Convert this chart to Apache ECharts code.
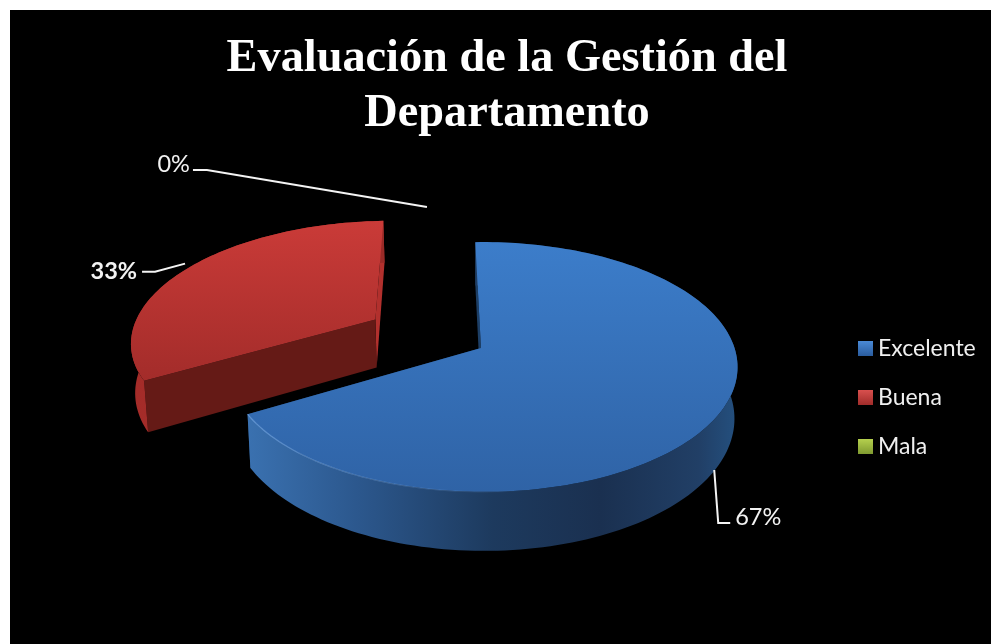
<!DOCTYPE html>
<html lang="es">
<head>
<meta charset="utf-8">
<title>Evaluación de la Gestión del Departamento</title>
<style>
  html, body { margin: 0; padding: 0; background: #fff; }
  #chart { width: 991px; height: 644px; }
</style>
<script src="https://cdn.jsdelivr.net/npm/echarts@6/dist/echarts.min.js"></script>
</head>
<body>
<div id="chart"></div>
<script>
// Survey results
const categories = ['Excelente', 'Buena', 'Mala'];
const values = [67, 33, 0];
const chartTitle = 'Evaluación de la Gestión del\nDepartamento';

// Perspective camera for the tilted disc: a unit circle in the ground plane is
// projected with a depth-dependent divisor, so the near edge reads larger.
const disc = { cx: 481, cy: 348, rx: 251.5, ry: 122, persp: 0.152, skew: 0.008, depth: 50, baseScale: 0.988, startDeg: -91.5 };

// How far each slice is pulled out of the disc, in radii.
const explode = [0, 0.5, 0.5];

const lightFont = 'Lato, "Open Sans", sans-serif';

// cutFirst / cutLast are the flat walls at the beginning and end of the clockwise sweep.
const skins = [
  {
    top: ['#3c7dca', '#2f63a6'],
    side: [[0, '#3a71b0'], [0.22, '#2c588e'], [0.5, '#1d3a5e'], [0.72, '#1a3050'], [0.92, '#213f66'], [1, '#24507f']],
    cutFirst: '#1d3f66', cutLast: '#1d3f66', rim: 'rgba(130,180,240,0.6)', rimFade: 'rgba(130,180,240,0)', rimFrom: 80, legend: ['#4a8ad6', '#2a5c9e']
  },
  {
    top: ['#ca3b38', '#a32c2a'],
    side: [[0, '#a52c29'], [1, '#9a2a27']],
    cutFirst: '#651a16', cutLast: '#b2302d', rim: null, legend: ['#d8504e', '#a02c2a']
  },
  {
    top: ['#9bbb3c', '#7d9a2e'],
    side: [[0, '#7d9a2e'], [1, '#5f7622']],
    cutFirst: '#5f7622', cutLast: '#5f7622', rim: null, legend: ['#b5d04e', '#7f9a30']
  }
];

// Leader lines: a nudge for the anchor on the slice, then elbow and end relative to it.
const leaders = [
  { nudge: [-3, 3], elbow: [4, 53], end: [16, 53], label: [21, 47], align: 'left', weight: 'normal' },
  { nudge: [-2, -5], elbow: [-30, 8], end: [-43, 8], label: [-48, 8], align: 'right', weight: 'bold' },
  { nudge: [-46, 8], elbow: [-220, -37], end: [-234, -37], label: [-237, -43], align: 'right', weight: 'normal' }
];

const total = values.reduce((a, b) => a + b, 0);
const rad = d => d * Math.PI / 180;

// Sweep of a slice in degrees, clockwise on screen from the chart's start angle.
function sweepOf(index) {
  let from = disc.startDeg;
  for (let i = 0; i < index; i++) from += values[i] / total * 360;
  return [from, from + values[index] / total * 360];
}

function project(u, v, base) {
  const w = 1 - disc.persp * v - disc.skew * u;
  const k = base ? disc.baseScale : 1;
  return [disc.cx + disc.rx * u / w * k, disc.cy + disc.ry * v / w + (base ? disc.depth / w : 0)];
}

function renderSlice(params, api) {
  const i = params.seriesIndex;
  const value = api.value(0);
  const [a0, a1] = sweepOf(i);
  const mid = rad((a0 + a1) / 2);
  const ox = Math.cos(mid) * explode[i];
  const oy = Math.sin(mid) * explode[i];
  const skin = skins[i];
  const children = [];

  const arc = (from, to, base) => {
    const pts = [];
    const steps = Math.max(2, Math.ceil(Math.abs(to - from) / 1.5));
    for (let s = 0; s <= steps; s++) {
      const t = rad(from + (to - from) * s / steps);
      pts.push(project(ox + Math.cos(t), oy + Math.sin(t), base));
    }
    return pts;
  };
  const linear = (x0, y0, x1, y1, stops) => new echarts.graphic.LinearGradient(x0, y0, x1, y1,
    stops.map(s => ({ offset: s[0], color: s[1] })));
  const poly = (points, fill) => ({ type: 'polygon', silent: true, shape: { points }, style: { fill } });

  if (value > 0) {
    const apexTop = project(ox, oy, false);
    const apexBase = project(ox, oy, true);
    const topArc = arc(a0, a1, false);
    const baseArc = arc(a0, a1, true);

    // Flat cut walls first, then the curved wall, then the lid over everything.
    children.push(poly([topArc[topArc.length - 1], apexTop, apexBase, baseArc[baseArc.length - 1]], skin.cutLast));
    children.push(poly([topArc[0], apexTop, apexBase, baseArc[0]], skin.cutFirst));
    children.push(poly(topArc.concat(baseArc.slice().reverse()), linear(0, 0, 1, 0, skin.side)));
    children.push(poly([apexTop].concat(topArc), linear(0, 0, 0, 1, [[0, skin.top[0]], [1, skin.top[1]]])));
    if (skin.rim) {
      children.push({
        type: 'polyline', silent: true,
        shape: { points: arc(skin.rimFrom, a1, false) },
        style: { stroke: linear(0, 0, 1, 0, [[0, skin.rim], [1, skin.rimFade]]), lineWidth: 1.2, fill: 'none' }
      });
    }
  }

  // Leader line and percentage label, hung off the slice's mid-angle.
  const lead = leaders[i];
  const rimPoint = project(ox + Math.cos(mid), oy + Math.sin(mid), Math.sin(mid) > 0);
  const a = [rimPoint[0] + lead.nudge[0], rimPoint[1] + lead.nudge[1]];
  children.push({
    type: 'polyline', silent: true,
    shape: { points: [a, [a[0] + lead.elbow[0], a[1] + lead.elbow[1]], [a[0] + lead.end[0], a[1] + lead.end[1]]] },
    style: { stroke: '#f4f4f4', lineWidth: 2, fill: 'none' }
  });
  children.push({
    type: 'text', silent: true,
    style: {
      text: Math.round(value / total * 100) + '%',
      x: a[0] + lead.label[0], y: a[1] + lead.label[1],
      fill: '#f2f2f2', align: lead.align, verticalAlign: 'middle',
      font: lead.weight + ' 23.5px ' + lightFont
    }
  });
  return { type: 'group', children };
}

const chart = echarts.init(document.getElementById('chart'), null, { renderer: 'canvas' });
chart.setOption({
  animation: false,
  backgroundColor: '#ffffff',
  graphic: [{
    type: 'rect', z: -1, silent: true,
    shape: { x: 10, y: 10, width: 981, height: 634 },
    style: { fill: '#000000' }
  }],
  title: {
    text: chartTitle,
    left: 502,
    top: 27,
    textAlign: 'center',
    textStyle: { color: '#ffffff', fontFamily: '"Liberation Serif", serif', fontWeight: 'bold', fontSize: 46.3, lineHeight: 55 }
  },
  legend: {
    orient: 'vertical',
    left: 853,
    top: 332,
    itemWidth: 15,
    itemHeight: 15,
    itemGap: 26,
    icon: 'rect',
    selectedMode: false,
    textStyle: { color: '#f0f0f0', fontFamily: lightFont, fontSize: 23, padding: [0, 0, 0, 0] },
    data: categories.map((name, i) => ({
      name,
      itemStyle: {
        color: new echarts.graphic.LinearGradient(0, 0, 0, 1, [
          { offset: 0, color: skins[i].legend[0] }, { offset: 1, color: skins[i].legend[1] }
        ])
      }
    }))
  },
  series: categories.map((name, i) => ({
    type: 'custom',
    name,
    coordinateSystem: 'none',
    z: 5 - i,
    itemStyle: { color: skins[i].top[0] },
    data: [[values[i]]],
    renderItem: renderSlice
  }))
});
</script>
</body>
</html>
